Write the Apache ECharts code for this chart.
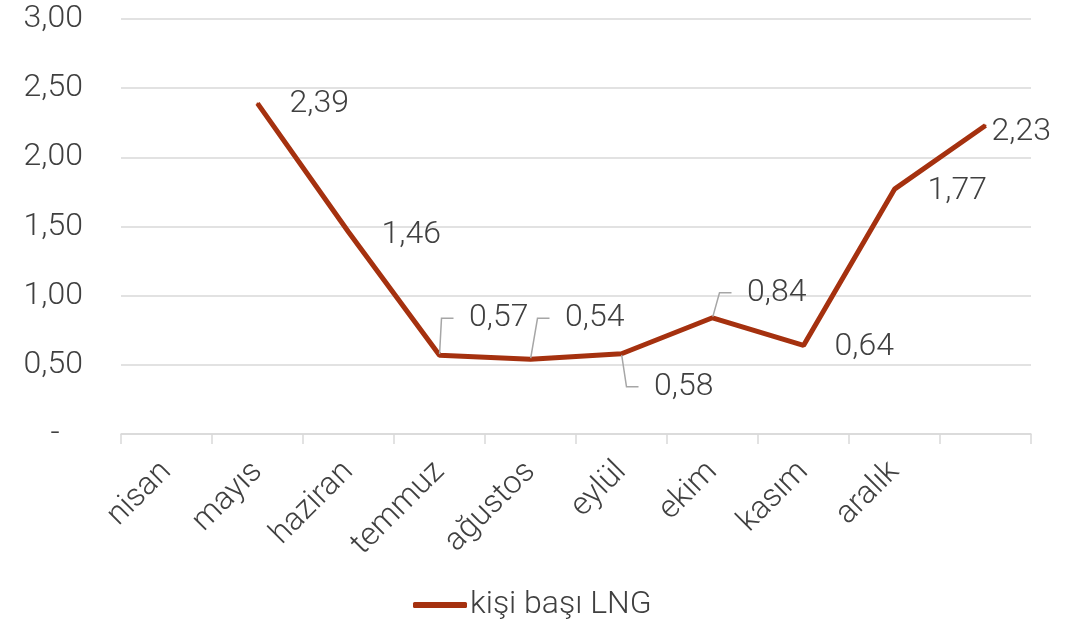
<!DOCTYPE html>
<html>
<head>
<meta charset="utf-8">
<script src="https://cdn.jsdelivr.net/npm/echarts@6/dist/echarts.min.js"></script>
<style>
  html, body { margin: 0; padding: 0; background: #fff; }
  #chart { width: 1077px; height: 623px; }
</style>
</head>
<body>
<div id="chart"></div>
<script>
// aylar (son kategori etiketsiz)
const months = ['nisan', 'mayıs', 'haziran', 'temmuz', 'ağustos', 'eylül', 'ekim', 'kasım', 'aralık', '']
const seriesName = 'kişi başı LNG'
const lngPerPerson = [null, 2.39, 1.46, 0.57, 0.54, 0.58, 0.84, 0.64, 1.77, 2.23]
const yTicks = [0, 0.5, 1, 1.5, 2, 2.5, 3]

const textColor = '#404040'
const lineColor = '#a5310f'
const gridColor = '#d9d9d9'
const font = 'Roboto, "Helvetica Neue", Arial, sans-serif'
const fs = 32

// etiket kaydırmaları (dx, dy); kılavuzlu etiketlerin önünde boşluk var
const labelShift = {
  1: [1, 1],
  2: [2, 3],
  3: [-17, -37],
  4: [-12, -41],
  5: [-14, 33],
  6: [-12, -25],
  7: [0, 2],
  8: [2, 2],
  9: [-25, 6]
}
const withGuide = [3, 4, 5, 6]

const fmt = v => (v === 0 ? '-   ' : v.toFixed(2).replace('.', ','))

const chart = echarts.init(document.getElementById('chart'))
chart.setOption({
  animation: false,
  grid: {
    left: 121,
    right: 46,
    top: 19,
    bottom: 189,
    containLabel: false
  },
  xAxis: {
    type: 'category',
    data: months,
    boundaryGap: true,
    axisLine: { lineStyle: { color: gridColor, width: 1.5 } },
    axisTick: { show: true, length: 10, lineStyle: { color: gridColor, width: 1.5 } },
    splitLine: { show: false },
    axisLabel: {
      interval: 0,
      rotate: 45,
      margin: 33,
      color: textColor,
      fontFamily: font,
      fontWeight: 300,
      fontSize: fs
    }
  },
  yAxis: {
    type: 'value',
    min: yTicks[0],
    max: yTicks[yTicks.length - 1],
    interval: 0.5,
    axisLine: { show: false },
    axisTick: { show: false },
    splitLine: { lineStyle: { color: gridColor, width: 1.5 } },
    axisLabel: {
      margin: 38,
      color: textColor,
      fontFamily: font,
      fontWeight: 300,
      fontSize: fs,
      formatter: fmt
    }
  },
  legend: {
    bottom: -3,
    left: 408,
    icon: 'roundRect',
    itemWidth: 54,
    itemHeight: 6,
    textStyle: {
      color: textColor,
      fontFamily: font,
      fontWeight: 300,
      fontSize: fs,
      padding: [0, 0, 0, -2]
    },
    data: [seriesName]
  },
  series: [
    {
      name: seriesName,
      type: 'line',
      data: lngPerPerson.map((v, i) => ({
        value: v,
        labelLine: { show: withGuide.includes(i) }
      })),
      symbol: 'circle',
      symbolSize: 2,
      showSymbol: true,
      lineStyle: { color: lineColor, width: 5 },
      itemStyle: { color: lineColor },
      label: {
        show: true,
        position: 'right',
        distance: 30,
        color: textColor,
        fontFamily: font,
        fontWeight: 300,
        fontSize: fs,
        formatter: p => (withGuide.includes(p.dataIndex) ? '  ' : '') + fmt(p.value)
      },
      labelLine: {
        show: false,
        length2: 12,
        lineStyle: { color: '#a6a6a6', width: 1.5 }
      },
      labelLayout: p => {
        const s = labelShift[p.dataIndex] || [0, 0]
        return { dx: s[0], dy: s[1] }
      }
    }
  ]
})
</script>
</body>
</html>
